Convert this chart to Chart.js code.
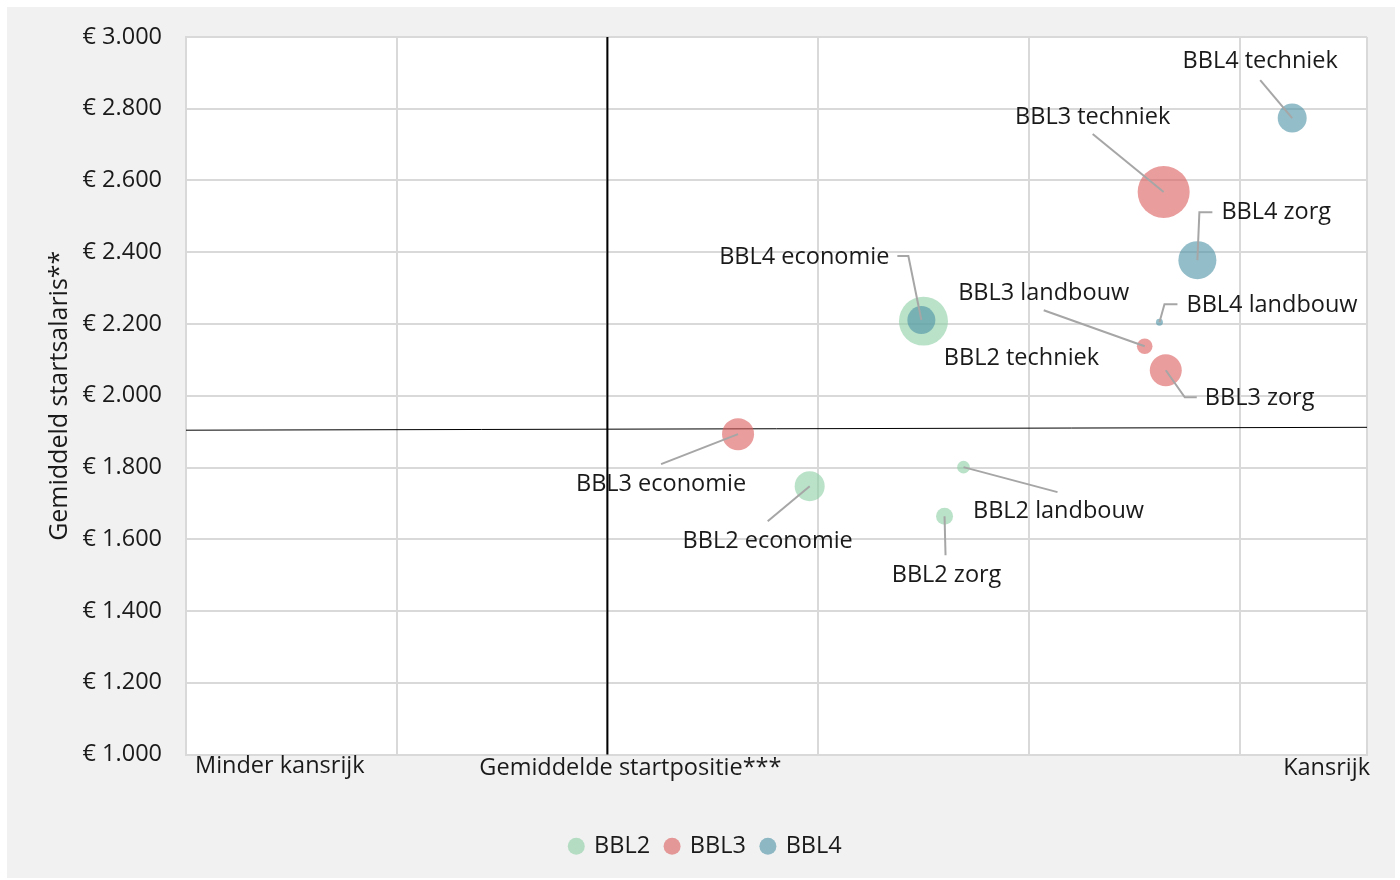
<!DOCTYPE html>
<html>
<head>
<meta charset="utf-8">
<script src="https://cdn.jsdelivr.net/npm/chart.js@4.4.1/dist/chart.umd.min.js"></script>
<style>
  html, body { margin: 0; padding: 0; background: #fff; }
  #wrap { position: absolute; left: 7px; top: 7px; width: 1388px; height: 871px; background: #f1f1f1; }
</style>
</head>
<body>
<div id="wrap"><canvas id="bubbles"></canvas></div>
<script>
// richtingen per niveau: economie, landbouw, techniek, zorg
const richtingen = ['economie', 'landbouw', 'techniek', 'zorg'];

const bbl2Positie = [2.96, 3.69, 3.50, 3.60];
const bbl2Salaris = [1748, 1801, 2208, 1664];
const bbl2Omvang  = [225, 40, 600, 72];

const bbl3Positie = [2.62, 4.55, 4.64, 4.65];
const bbl3Salaris = [1893, 2138, 2568, 2071];
const bbl3Omvang  = [256, 61, 676, 256];

const bbl4Positie = [3.49, 4.62, 5.25, 4.80];
const bbl4Salaris = [2211, 2205, 2774, 2378];
const bbl4Omvang  = [196, 12, 210, 361];

const gemPositie = 2;
const gemSalaris = [1904, 1912];   // lijn loopt licht schuin
const xMax = 5.605;
const yTicks = [1000, 1200, 1400, 1600, 1800, 2000, 2200, 2400, 2600, 2800, 3000];

const font = '"Open Sans", "Noto Sans", sans-serif';
const fs = 23.5;
const txt = '#1a1a1a';

function punten(pos, sal, omv) {
    return pos.map((x, i) => ({ x: x, y: sal[i], r: Math.sqrt(omv[i]), naam: richtingen[i] }));
}

// label plaatsing t.o.v. het middelpunt van de bubbel (pixels)
const labelOffsets = {
    'BBL4 techniek':  { t: [-32, -57], a: 'center', l: [[-32, -38]] },
    'BBL3 techniek':  { t: [-71, -75], a: 'center', l: [[-71, -58]] },
    'BBL4 zorg':      { t: [24, -48], a: 'left', l: [[2, -48], [15, -48]] },
    'BBL4 economie':  { t: [-32, -63], a: 'right', l: [[-13, -64], [-24, -64]] },
    'BBL3 landbouw':  { t: [-101, -53], a: 'center', l: [[-101, -36]] },
    'BBL4 landbouw':  { t: [27, -17], a: 'left', l: [[5, -18], [18, -18]] },
    'BBL2 techniek':  { t: [98, 37], a: 'center', l: [] },
    'BBL3 zorg':      { t: [39, 28], a: 'left', l: [[19, 27], [31, 27]] },
    'BBL3 economie':  { t: [-77, 50], a: 'center', l: [[-77, 30]] },
    'BBL2 economie':  { t: [-42, 55], a: 'center', l: [[-42, 35]] },
    'BBL2 landbouw':  { t: [95, 44], a: 'center', l: [[94, 25]] },
    'BBL2 zorg':      { t: [2, 59], a: 'center', l: [[1, 39]] }
};

const achtergrond = {
    id: 'achtergrond',
    beforeDraw(chart) {
        const a = chart.chartArea, c = chart.ctx;
        c.save();
        c.fillStyle = '#fff';
        c.fillRect(a.left, a.top, a.right - a.left, a.bottom - a.top);
        c.restore();
    },
    beforeDatasetsDraw(chart) {
        const a = chart.chartArea, c = chart.ctx;
        const xs = chart.scales.x, ys = chart.scales.y;
        c.save();
        c.strokeStyle = '#000';
        c.lineWidth = 1;
        c.beginPath();
        c.moveTo(a.left, ys.getPixelForValue(gemSalaris[0]));
        c.lineTo(a.right, ys.getPixelForValue(gemSalaris[1]));
        c.stroke();
        c.lineWidth = 2;
        const gx = xs.getPixelForValue(gemPositie);
        c.beginPath();
        c.moveTo(gx, a.top);
        c.lineTo(gx, a.bottom);
        c.stroke();

        // as-labels onder de x-as
        c.fillStyle = txt;
        c.font = fs + 'px ' + font;
        c.textBaseline = 'middle';
        const ty = a.bottom + 12;
        c.textAlign = 'left';
        c.fillText('Minder kansrijk', a.left + 9, ty);
        c.textAlign = 'center';
        c.fillText('Gemiddelde startpositie***', gx + 23, ty + 2);
        c.textAlign = 'right';
        c.fillText('Kansrijk', a.right + 3, ty + 2);
        c.restore();
    },
    afterDatasetsDraw(chart) {
        const c = chart.ctx;
        c.save();
        c.font = fs + 'px ' + font;
        c.textBaseline = 'middle';
        chart.data.datasets.forEach((ds, di) => {
            const meta = chart.getDatasetMeta(di);
            meta.data.forEach((el, i) => {
                const naam = ds.label + ' ' + ds.data[i].naam;
                const o = labelOffsets[naam];
                if (!o) return;
                if (o.l.length) {
                    c.strokeStyle = '#a6a6a6';
                    c.lineWidth = 2;
                    c.beginPath();
                    c.moveTo(el.x, el.y);
                    o.l.forEach(p => c.lineTo(el.x + p[0], el.y + p[1]));
                    c.stroke();
                }
                c.fillStyle = txt;
                c.textAlign = o.a;
                c.fillText(naam, el.x + o.t[0], el.y + o.t[1]);
            });
        });
        c.restore();
    }
};

const euro = v => '€ ' + String(v).replace(/\B(?=(\d{3})+(?!\d))/g, '.');

new Chart(document.getElementById('bubbles'), {
    type: 'bubble',
    data: {
        datasets: [
            { label: 'BBL2', data: punten(bbl2Positie, bbl2Salaris, bbl2Omvang), backgroundColor: 'rgba(138,207,163,0.6)', borderWidth: 0, order: 3 },
            { label: 'BBL3', data: punten(bbl3Positie, bbl3Salaris, bbl3Omvang), backgroundColor: 'rgba(220,92,92,0.6)', borderWidth: 0, order: 2 },
            { label: 'BBL4', data: punten(bbl4Positie, bbl4Salaris, bbl4Omvang), backgroundColor: 'rgba(75,145,165,0.6)', borderWidth: 0, order: 1 }
        ]
    },
    options: {
        responsive: true,
        maintainAspectRatio: false,
        animation: false,
        layout: { autoPadding: false, padding: { left: 38, right: 28, top: 30, bottom: 10 } },
        plugins: {
            legend: {
                position: 'bottom',
                labels: {
                    usePointStyle: true,
                    pointStyle: 'circle',
                    boxWidth: 12,
                    boxHeight: 12,
                    padding: 16,
                    color: txt,
                    font: { family: font, size: fs },
                    sort: (a, b) => a.datasetIndex - b.datasetIndex
                }
            },
            tooltip: { enabled: false }
        },
        scales: {
            x: {
                type: 'linear',
                min: 0,
                max: xMax,
                ticks: { display: false, stepSize: 1 },
                grid: { color: '#d9d9d9', lineWidth: 2, drawTicks: false },
                border: { color: '#d9d9d9', width: 2 },
                afterFit: s => { s.height = 64; }
            },
            y: {
                min: 1000,
                max: 3000,
                afterBuildTicks: s => { s.ticks = yTicks.map(v => ({ value: v })); },
                ticks: { callback: euro, padding: 24, color: txt, font: { family: font, size: fs } },
                grid: { color: '#d9d9d9', lineWidth: 2, drawTicks: false },
                border: { color: '#d9d9d9', width: 2 },
                title: { display: true, text: 'Gemiddeld startsalaris**', color: txt, font: { family: font, size: 25 }, padding: 0 },
                afterFit: s => { s.width = 141; s.paddingTop = 0; s.paddingBottom = 0; }
            }
        }
    },
    plugins: [achtergrond]
});
</script>
</body>
</html>
